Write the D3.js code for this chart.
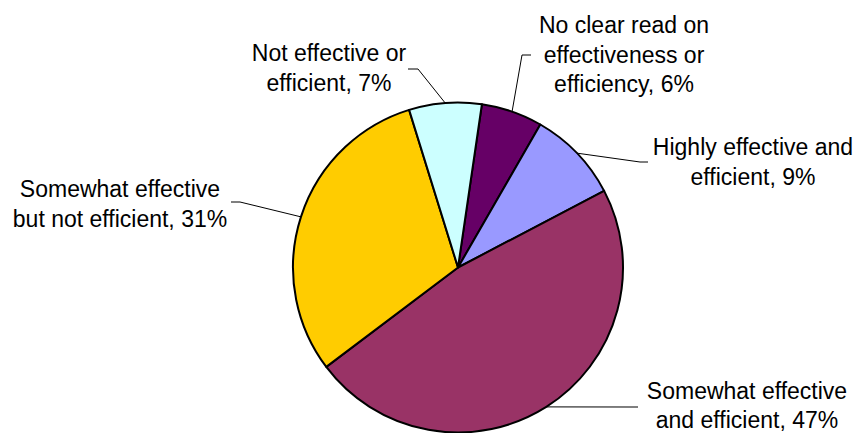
<!DOCTYPE html>
<html><head><meta charset="utf-8">
<script src="https://cdn.jsdelivr.net/npm/d3@7"></script>
<style>
body{margin:0;background:#fff;}
svg text{font-family:"Liberation Sans",Arial,Helvetica,sans-serif;font-size:23px;fill:#000;}
</style>
</head><body>
<svg id="chart" width="856" height="433"></svg>
<script>
// ---- data ----
const categories = [
  "No clear read on effectiveness or efficiency",
  "Highly effective and efficient",
  "Somewhat effective and efficient",
  "Somewhat effective but not efficient",
  "Not effective or efficient"
];
const values = [6.0, 9.0, 47.4, 30.5, 7.1];
const labelLines = [
  ["No clear read on", "effectiveness or", "efficiency"],
  ["Highly effective and", "efficient"],
  ["Somewhat effective", "and efficient"],
  ["Somewhat effective", "but not efficient"],
  ["Not effective or", "efficient"]
];
const colors = ["#660066", "#9999FF", "#993366", "#FFCC00", "#CCFFFF"];

// ---- layout ----
const W = 856, H = 433;
const cx = 458, cy = 267.5, R = 165;
const startAngle = 8.33 * Math.PI / 180;
const lineGap = 29.5;
const labelLayout = [
  {x: 624, y: 33,  elbow: [[522, 55], [531, 55]]},
  {x: 753, y: 155, elbow: [[640, 162], [648, 162]]},
  {x: 747, y: 398.5, elbow: [[630, 407], [638, 407]]},
  {x: 120, y: 197, elbow: [[240, 202], [231, 202]]},
  {x: 329, y: 61,  elbow: [[418, 69], [408, 69]]}
];

const svg = d3.select("#chart");
const g = svg.append("g").attr("transform", `translate(${cx},${cy})`);

const pie = d3.pie().sort(null).value(d => d)
  .startAngle(startAngle).endAngle(startAngle + 2 * Math.PI);
const arcs = pie(values);
const arc = d3.arc().innerRadius(0).outerRadius(R);

g.selectAll("path.slice").data(arcs).enter().append("path")
  .attr("class", "slice")
  .attr("d", arc)
  .attr("fill", (d, i) => colors[i])
  .attr("stroke", "#000")
  .attr("stroke-width", 2)
  .attr("stroke-linejoin", "round");

// leader lines
arcs.forEach((d, i) => {
  const mid = (d.startAngle + d.endAngle) / 2;
  const px = cx + R * Math.sin(mid), py = cy - R * Math.cos(mid);
  const pts = [[px, py]].concat(labelLayout[i].elbow);
  svg.append("path")
    .attr("d", d3.line()(pts))
    .attr("fill", "none")
    .attr("stroke", "#000")
    .attr("stroke-width", 1);
});

// labels
arcs.forEach((d, i) => {
  const lines = labelLines[i].slice();
  lines[lines.length - 1] = lines[lines.length - 1] + ", " + Math.round(values[i]) + "%";
  const t = svg.append("text")
    .attr("text-anchor", "middle");
  lines.forEach((ln, k) => {
    t.append("tspan")
      .attr("x", labelLayout[i].x)
      .attr("y", labelLayout[i].y + k * lineGap)
      .text(ln);
  });
});
</script>
</body></html>
